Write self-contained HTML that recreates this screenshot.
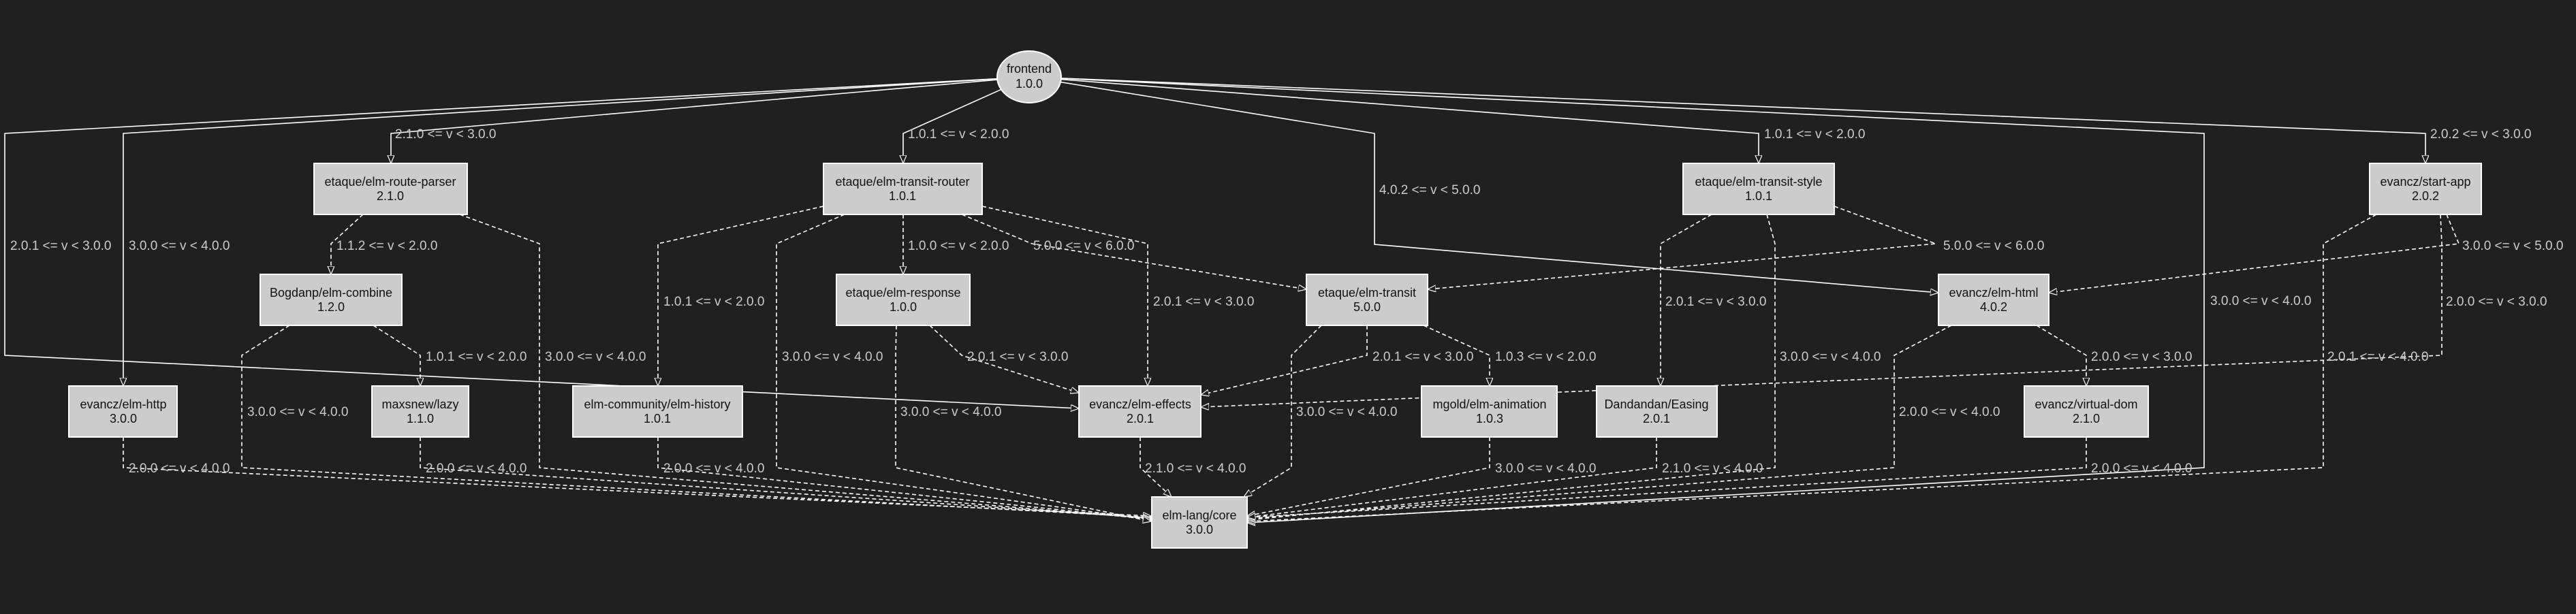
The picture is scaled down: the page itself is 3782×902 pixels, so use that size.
<!DOCTYPE html>
<html><head><meta charset="utf-8"><style>
html,body{margin:0;padding:0;background:#202020;}
svg{display:block;}
.e{fill:none;stroke:#fff;stroke-width:1.6;}
.d{stroke-dasharray:6,4;}
.l{font-family:"Liberation Sans",sans-serif;font-size:19px;fill:#ccc;}
.n{fill:#ccc;stroke:#fff;stroke-width:2;}
.t{font-family:"Liberation Sans",sans-serif;font-size:18px;fill:#111;text-anchor:middle;}
</style></head><body>
<svg width="3782" height="902" viewBox="0 0 3782 902" xmlns="http://www.w3.org/2000/svg">
<defs><marker id="a" markerUnits="userSpaceOnUse" markerWidth="14" markerHeight="12" refX="12" refY="5" orient="auto"><path d="M0,0 L12,5 L0,10 z" fill="#202020" stroke="#fff" stroke-width="1.2"/></marker></defs>
<g marker-end="url(#a)">
<path class="e" d="M1511,113 L7,196 L7,522 L1584,600"/>
<path class="e" d="M1511,113 L181,196 L181,567"/>
<path class="e" d="M1511,113 L574,196 L574,240"/>
<path class="e" d="M1511,113 L1326,196 L1326,240"/>
<path class="e" d="M1511,113 L2018,196 L2018,359 L2846,430"/>
<path class="e" d="M1511,113 L2582,196 L2582,240"/>
<path class="e" d="M1511,113 L3236,196 L3236,687 L1831,768"/>
<path class="e" d="M1511,113 L3561,196 L3561,240"/>
<path class="e d" d="M533,315 L486,358 L486,403"/>
<path class="e d" d="M675,315 L792,358 L792,687 L1690,762"/>
<path class="e d" d="M548,478 L617,522 L617,567"/>
<path class="e d" d="M425,478 L355,522 L355,687 L1690,760"/>
<path class="e d" d="M1209,303 L966,358 L966,567"/>
<path class="e d" d="M1240,315 L1140,358 L1140,687 L1690,764"/>
<path class="e d" d="M1326,315 L1326,403"/>
<path class="e d" d="M1442,303 L1685,358 L1685,567"/>
<path class="e d" d="M1412,315 L1515,358 L1918,425"/>
<path class="e d" d="M181,642 L181,687 L1690,758"/>
<path class="e d" d="M617,642 L617,687 L1690,761"/>
<path class="e d" d="M966,642 L966,687 L1690,763"/>
<path class="e d" d="M1316,478 L1315,522 L1315,687 L1690,766"/>
<path class="e d" d="M1365,478 L1412,522 L1584,577"/>
<path class="e d" d="M1674,642 L1674,687 L1720,730"/>
<path class="e d" d="M1940,478 L1896,522 L1896,687 L1826,730"/>
<path class="e d" d="M2007,478 L2007,522 L1763,580"/>
<path class="e d" d="M2090,478 L2187,522 L2187,567"/>
<path class="e d" d="M3583,315 L3585,358 L3585,522 L1763,598"/>
<path class="e d" d="M3592,315 L3610,358 L3008,430"/>
<path class="e d" d="M3489,315 L3411,358 L3411,687 L1831,766"/>
<path class="e d" d="M2513,315 L2438,358 L2438,567"/>
<path class="e d" d="M2594,315 L2606,358 L2606,687 L1831,764"/>
<path class="e d" d="M2693,303 L2842,358 L2096,425"/>
<path class="e d" d="M2865,478 L2781,522 L2781,687 L1831,762"/>
<path class="e d" d="M2990,478 L3063,522 L3063,567"/>
<path class="e d" d="M3063,642 L3063,687 L1831,760"/>
<path class="e d" d="M2187,642 L2187,687 L1831,758"/>
<path class="e d" d="M2432,642 L2432,687 L1831,760"/>
</g>
<g class="l">
<text x="15" y="367">2.0.1 &lt;= v &lt; 3.0.0</text>
<text x="189" y="367">3.0.0 &lt;= v &lt; 4.0.0</text>
<text x="580" y="203">2.1.0 &lt;= v &lt; 3.0.0</text>
<text x="1333" y="203">1.0.1 &lt;= v &lt; 2.0.0</text>
<text x="2025" y="285">4.0.2 &lt;= v &lt; 5.0.0</text>
<text x="2590" y="203">1.0.1 &lt;= v &lt; 2.0.0</text>
<text x="3245" y="448">3.0.0 &lt;= v &lt; 4.0.0</text>
<text x="3568" y="203">2.0.2 &lt;= v &lt; 3.0.0</text>
<text x="494" y="367">1.1.2 &lt;= v &lt; 2.0.0</text>
<text x="800" y="530">3.0.0 &lt;= v &lt; 4.0.0</text>
<text x="625" y="530">1.0.1 &lt;= v &lt; 2.0.0</text>
<text x="363" y="611">3.0.0 &lt;= v &lt; 4.0.0</text>
<text x="974" y="449">1.0.1 &lt;= v &lt; 2.0.0</text>
<text x="1148" y="530">3.0.0 &lt;= v &lt; 4.0.0</text>
<text x="1333" y="367">1.0.0 &lt;= v &lt; 2.0.0</text>
<text x="1693" y="449">2.0.1 &lt;= v &lt; 3.0.0</text>
<text x="1517" y="367">5.0.0 &lt;= v &lt; 6.0.0</text>
<text x="189" y="694">2.0.0 &lt;= v &lt; 4.0.0</text>
<text x="625" y="694">2.0.0 &lt;= v &lt; 4.0.0</text>
<text x="974" y="694">2.0.0 &lt;= v &lt; 4.0.0</text>
<text x="1322" y="611">3.0.0 &lt;= v &lt; 4.0.0</text>
<text x="1420" y="530">2.0.1 &lt;= v &lt; 3.0.0</text>
<text x="1681" y="694">2.1.0 &lt;= v &lt; 4.0.0</text>
<text x="1903" y="611">3.0.0 &lt;= v &lt; 4.0.0</text>
<text x="2015" y="530">2.0.1 &lt;= v &lt; 3.0.0</text>
<text x="2195" y="530">1.0.3 &lt;= v &lt; 2.0.0</text>
<text x="3591" y="449">2.0.0 &lt;= v &lt; 3.0.0</text>
<text x="3615" y="367">3.0.0 &lt;= v &lt; 5.0.0</text>
<text x="3417" y="530">2.0.1 &lt;= v &lt; 4.0.0</text>
<text x="2445" y="449">2.0.1 &lt;= v &lt; 3.0.0</text>
<text x="2613" y="530">3.0.0 &lt;= v &lt; 4.0.0</text>
<text x="2853" y="367">5.0.0 &lt;= v &lt; 6.0.0</text>
<text x="2788" y="611">2.0.0 &lt;= v &lt; 4.0.0</text>
<text x="3070" y="530">2.0.0 &lt;= v &lt; 3.0.0</text>
<text x="3070" y="694">2.0.0 &lt;= v &lt; 4.0.0</text>
<text x="2195" y="694">3.0.0 &lt;= v &lt; 4.0.0</text>
<text x="2440" y="694">2.1.0 &lt;= v &lt; 4.0.0</text>
</g>
<ellipse class="n" cx="1511" cy="113" rx="47" ry="38"/>
<text class="t" x="1511" y="107">frontend</text><text class="t" x="1511" y="129">1.0.0</text>
<g>
<rect class="n" x="461" y="240" width="225" height="75"/><text class="t" x="573" y="273">etaque/elm-route-parser</text><text class="t" x="573" y="294">2.1.0</text>
<rect class="n" x="1209" y="240" width="233" height="75"/><text class="t" x="1325" y="273">etaque/elm-transit-router</text><text class="t" x="1325" y="294">1.0.1</text>
<rect class="n" x="2471" y="240" width="222" height="75"/><text class="t" x="2582" y="273">etaque/elm-transit-style</text><text class="t" x="2582" y="294">1.0.1</text>
<rect class="n" x="3479" y="240" width="164" height="75"/><text class="t" x="3561" y="273">evancz/start-app</text><text class="t" x="3561" y="294">2.0.2</text>
<rect class="n" x="382" y="403" width="208" height="75"/><text class="t" x="486" y="436">Bogdanp/elm-combine</text><text class="t" x="486" y="457">1.2.0</text>
<rect class="n" x="1228" y="403" width="196" height="75"/><text class="t" x="1326" y="436">etaque/elm-response</text><text class="t" x="1326" y="457">1.0.0</text>
<rect class="n" x="1918" y="403" width="178" height="75"/><text class="t" x="2007" y="436">etaque/elm-transit</text><text class="t" x="2007" y="457">5.0.0</text>
<rect class="n" x="2846" y="403" width="162" height="75"/><text class="t" x="2927" y="436">evancz/elm-html</text><text class="t" x="2927" y="457">4.0.2</text>
<rect class="n" x="101" y="567" width="159" height="75"/><text class="t" x="181" y="600">evancz/elm-http</text><text class="t" x="181" y="621">3.0.0</text>
<rect class="n" x="546" y="567" width="142" height="75"/><text class="t" x="617" y="600">maxsnew/lazy</text><text class="t" x="617" y="621">1.1.0</text>
<rect class="n" x="841" y="567" width="249" height="75"/><text class="t" x="965" y="600">elm-community/elm-history</text><text class="t" x="965" y="621">1.0.1</text>
<rect class="n" x="1584" y="567" width="179" height="75"/><text class="t" x="1674" y="600">evancz/elm-effects</text><text class="t" x="1674" y="621">2.0.1</text>
<rect class="n" x="2087" y="567" width="199" height="75"/><text class="t" x="2187" y="600">mgold/elm-animation</text><text class="t" x="2187" y="621">1.0.3</text>
<rect class="n" x="2344" y="567" width="177" height="75"/><text class="t" x="2432" y="600">Dandandan/Easing</text><text class="t" x="2432" y="621">2.0.1</text>
<rect class="n" x="2972" y="567" width="182" height="75"/><text class="t" x="3063" y="600">evancz/virtual-dom</text><text class="t" x="3063" y="621">2.1.0</text>
<rect class="n" x="1691" y="730" width="140" height="75"/><text class="t" x="1761" y="763">elm-lang/core</text><text class="t" x="1761" y="784">3.0.0</text>
</g>
</svg>
</body></html>
